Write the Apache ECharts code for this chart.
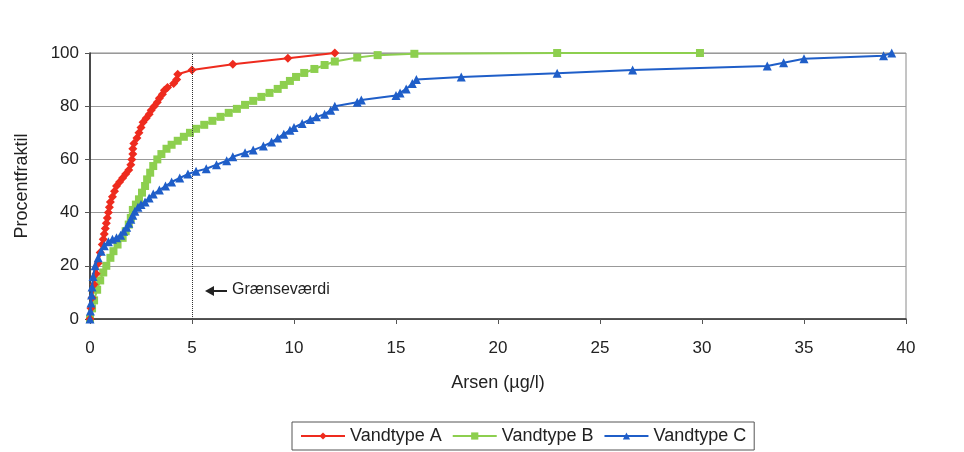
<!DOCTYPE html>
<html>
<head>
<meta charset="utf-8">
<script src="https://cdn.jsdelivr.net/npm/echarts@6/dist/echarts.min.js"></script>
<style>
  html, body { margin: 0; padding: 0; background: #fff; }
  #chart { width: 964px; height: 452px; }
</style>
</head>
<body>
<div id="chart"></div>
<script>
// Vandtype A (red, diamonds)
const aX = [0, 0.05, 0.1, 0.2, 0.3, 0.4, 0.5, 0.6, 0.65, 0.7, 0.75, 0.8, 0.85, 0.9, 0.95, 1.0, 1.1, 1.2, 1.3, 1.45, 1.6, 1.75, 1.9, 2.0, 2.05, 2.1, 2.1, 2.15, 2.3, 2.4, 2.5, 2.6, 2.75, 2.9, 3.0, 3.15, 3.3, 3.4, 3.55, 3.65, 3.8, 4.1, 4.25, 4.3, 5.0, 7.0, 9.7, 12.0];
const aY = [0, 4, 8, 13, 17, 21, 25, 28, 30, 32, 34, 36, 38, 40, 42, 44, 46, 48, 50, 51.5, 53, 54.5, 56, 58, 60, 62, 64, 66, 68, 70, 72, 74, 75.5, 77, 78.5, 80, 81.5, 83, 84.5, 86, 87, 88.5, 90, 92, 93.6, 95.8, 98, 100];

// Vandtype B (green, squares)
const bX = [0, 0.1, 0.2, 0.35, 0.5, 0.65, 0.8, 1.0, 1.15, 1.35, 1.6, 1.75, 1.9, 2.0, 2.1, 2.25, 2.4, 2.55, 2.7, 2.8, 2.95, 3.1, 3.3, 3.5, 3.75, 4.0, 4.3, 4.6, 4.9, 5.2, 5.6, 6.0, 6.4, 6.8, 7.2, 7.6, 8.0, 8.4, 8.8, 9.2, 9.5, 9.8, 10.1, 10.5, 11.0, 11.5, 12.0, 13.1, 14.1, 15.9, 22.9, 29.9];
const bY = [0, 4, 7, 11, 14.5, 17.5, 20, 23, 25.5, 28, 30.5, 33, 35.5, 38, 41, 43, 45, 47.5, 50, 52.5, 55, 57.5, 60, 62, 64, 65.5, 67, 68.5, 70, 71.5, 73, 74.5, 76, 77.5, 79, 80.5, 82, 83.5, 85, 86.5, 88, 89.5, 91, 92.5, 94, 95.5, 96.8, 98.3, 99.2, 99.7, 100, 100];

// Vandtype C (blue, triangles)
const cX = [0, 0.02, 0.05, 0.08, 0.1, 0.15, 0.25, 0.4, 0.55, 0.7, 0.9, 1.1, 1.3, 1.5, 1.65, 1.8, 1.9, 2.0, 2.1, 2.2, 2.35, 2.5, 2.7, 2.9, 3.1, 3.4, 3.7, 4.0, 4.4, 4.8, 5.2, 5.7, 6.2, 6.7, 7.0, 7.6, 8.0, 8.5, 8.9, 9.2, 9.5, 9.8, 10.0, 10.4, 10.8, 11.1, 11.5, 11.8, 12.0, 13.1, 13.3, 15.0, 15.2, 15.5, 15.8, 16.0, 18.2, 22.9, 26.6, 33.2, 34.0, 35.0, 38.9, 39.3];
const cY = [0, 3, 6, 9, 12, 16, 20, 23, 25.5, 27.5, 29, 30, 30.5, 31.5, 33, 34.5, 36, 37.5, 39, 40.5, 42, 43, 44, 45.5, 47, 48.5, 50, 51.5, 53, 54.5, 55.5, 56.5, 58, 59.5, 61, 62.5, 63.5, 65, 66.5, 68, 69.5, 71, 72, 73.5, 75, 76, 77, 78.5, 80, 81.5, 82.3, 84, 85, 86.5, 88.5, 90, 91, 92.4, 93.6, 95.1, 96.3, 97.8, 99, 100];

const grenseVaerdi = 5;
const fontFam = '"Liberation Sans", Arial, sans-serif';

function pairs(xs, ys) {
  return xs.map((x, i) => [x, ys[i]]);
}

const chart = echarts.init(document.getElementById('chart'));

chart.setOption({
  backgroundColor: '#fff',
  animation: false,
  textStyle: { fontFamily: fontFam },
  grid: {
    left: 90, right: 58, top: 53, bottom: 133,
    show: true, borderColor: '#8a8a8a', borderWidth: 1
  },
  legend: {
    bottom: 2,
    left: 292,
    borderColor: '#555',
    borderWidth: 1,
    padding: [5, 8],
    itemGap: 10,
    itemWidth: 44,
    itemHeight: 9,
    textStyle: { fontSize: 18, color: '#222', fontFamily: fontFam }
  },
  xAxis: {
    type: 'value',
    min: 0, max: 40, interval: 5,
    name: 'Arsen (µg/l)',
    nameLocation: 'middle',
    nameGap: 55,
    nameTextStyle: { fontSize: 18, color: '#222', fontFamily: fontFam },
    axisLine: { lineStyle: { color: '#333', width: 1.5 } },
    axisTick: { show: true, length: 5, lineStyle: { color: '#555' } },
    axisLabel: { fontSize: 17, color: '#222', margin: 21, fontFamily: fontFam },
    splitLine: { show: false }
  },
  yAxis: {
    type: 'value',
    min: 0, max: 100, interval: 20,
    name: 'Procentfraktil',
    nameLocation: 'middle',
    nameGap: 59,
    nameTextStyle: { fontSize: 18, color: '#222', fontFamily: fontFam },
    axisLine: { show: true, lineStyle: { color: '#222', width: 1.5 } },
    axisTick: { show: true, length: 5, lineStyle: { color: '#555' } },
    axisLabel: { fontSize: 17, color: '#222', margin: 11, fontFamily: fontFam },
    splitLine: { show: true, lineStyle: { color: '#999', width: 1 } }
  },
  graphic: [
    {
      type: 'polygon',
      shape: { points: [[205, 291], [214, 286], [214, 296]] },
      style: { fill: '#222' }
    },
    {
      type: 'line',
      shape: { x1: 212, y1: 291, x2: 227, y2: 291 },
      style: { stroke: '#222', lineWidth: 2 }
    },
    {
      type: 'text',
      left: 232,
      top: 282,
      style: { text: 'Grænseværdi', fontSize: 16, fill: '#222', fontFamily: fontFam }
    }
  ],
  series: [
    {
      name: 'Vandtype A',
      type: 'line',
      data: pairs(aX, aY),
      color: '#ee2b1e',
      symbol: 'diamond',
      symbolSize: 9,
      lineStyle: { width: 2 },
      z: 4,
      markLine: {
        silent: true,
        symbol: 'none',
        label: { show: false },
        lineStyle: { type: 'dotted', color: '#333', width: 1 },
        data: [{ xAxis: grenseVaerdi }]
      }
    },
    {
      name: 'Vandtype B',
      type: 'line',
      data: pairs(bX, bY),
      color: '#8dcf4f',
      symbol: 'rect',
      symbolSize: 8,
      lineStyle: { width: 2 },
      z: 3
    },
    {
      name: 'Vandtype C',
      type: 'line',
      data: pairs(cX, cY),
      color: '#1f5ec8',
      symbol: 'triangle',
      symbolSize: 9,
      lineStyle: { width: 2 },
      z: 5
    }
  ]
});
</script>
</body>
</html>
